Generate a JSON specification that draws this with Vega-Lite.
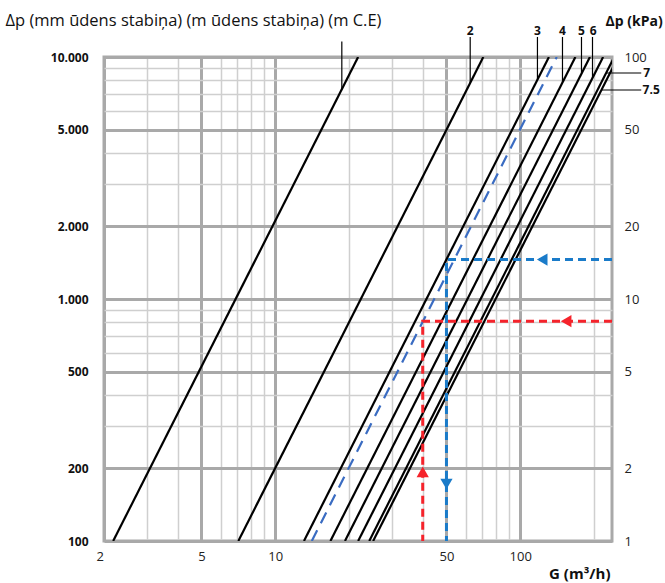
{
  "$schema": "https://vega.github.io/schema/vega-lite/v6.json",
  "width": 508,
  "height": 484,
  "autosize": "none",
  "padding": {"left": 104, "top": 57, "right": 53, "bottom": 42},
  "background": "white",
  "config": {
    "view": {"stroke": "#a9a9a9", "strokeWidth": 3},
    "font": "Open Sans"
  },
  "resolve": {"scale": {"y": "independent"}, "axis": {"y": "independent"}},
  "encoding": {
    "x": {
      "field": "G", "type": "quantitative",
      "scale": {"type": "log", "domain": [2, 237], "nice": false},
      "axis": {
        "values": [2, 3, 4, 5, 6, 7, 8, 9, 10, 20, 30, 40, 50, 60, 70, 80, 90, 100, 200],
        "grid": true,
        "gridColor": {"condition": {"test": "indexof([2,5,10,50,100], datum.value) >= 0", "value": "#a9a9a9"}, "value": "#cfcfcf"},
        "gridWidth": {"condition": {"test": "indexof([2,5,10,50,100], datum.value) >= 0", "value": 3}, "value": 1.5},
        "labelExpr": "indexof([2,5,10,50,100], datum.value) >= 0 ? toString(datum.value) : ''",
        "labelOffset": {"condition": {"test": "datum.value == 2", "value": -8}, "value": 0},
        "labelOverlap": false,
        "labelPadding": 9,
        "labelFontSize": 13,
        "labelColor": "#222",
        "ticks": false,
        "domain": false,
        "title": "G (m³/h)",
        "titleFontSize": 15,
        "titleFontWeight": "bold",
        "titleColor": "#111",
        "titleAlign": "right",
        "titleBaseline": "middle",
        "titleX": 506,
        "titleY": 32
      }
    }
  },
  "layer": [
    {
      "data": {"values": [{"G": 2, "dp": 100}]},
      "mark": {"type": "point", "opacity": 0},
      "encoding": {
        "y": {
          "field": "dp", "type": "quantitative",
          "scale": {"type": "log", "domain": [100, 10000], "nice": false},
          "axis": {
            "orient": "left",
            "values": [100, 200, 300, 400, 500, 600, 700, 800, 900, 1000, 2000, 3000, 4000, 5000, 6000, 7000, 8000, 9000, 10000],
            "grid": true,
            "gridColor": {"condition": {"test": "indexof([100,200,500,1000,2000,5000,10000], datum.value) >= 0", "value": "#a9a9a9"}, "value": "#cfcfcf"},
            "gridWidth": {"condition": {"test": "indexof([100,200,500,1000,2000,5000,10000], datum.value) >= 0", "value": 3}, "value": 1.5},
            "labelExpr": "indexof([100,200,500,1000,2000,5000,10000], datum.value) >= 0 ? replace(format(datum.value, ','), ',', '.') : ''",
            "labelOverlap": false,
            "labelPadding": 16,
            "labelFontSize": 12,
            "labelFontWeight": "bold",
            "labelColor": "#111",
            "ticks": false,
            "domain": false,
            "title": "Δp (mm ūdens stabiņa) (m ūdens stabiņa) (m C.E)",
            "titleAngle": 0,
            "titleAlign": "left",
            "titleBaseline": "middle",
            "titleX": -99,
            "titleY": -37,
            "titleFontSize": 16.5,
            "titleFontWeight": "normal",
            "titleColor": "#111"
          }
        }
      }
    },
    {
      "data": {"values": [
        {"id": "1", "G": 2.18, "dp": 100}, {"id": "1", "G": 21.8, "dp": 10000},
        {"id": "2", "G": 7.07, "dp": 100}, {"id": "2", "G": 70.7, "dp": 10000},
        {"id": "3", "G": 13.1, "dp": 100}, {"id": "3", "G": 131, "dp": 10000},
        {"id": "4", "G": 16.8, "dp": 100}, {"id": "4", "G": 168, "dp": 10000},
        {"id": "5", "G": 19.26, "dp": 100}, {"id": "5", "G": 192.6, "dp": 10000},
        {"id": "6", "G": 21.8, "dp": 100}, {"id": "6", "G": 218, "dp": 10000},
        {"id": "7", "G": 24.2, "dp": 100}, {"id": "7", "G": 242, "dp": 10000},
        {"id": "7.5", "G": 25.1, "dp": 100}, {"id": "7.5", "G": 251, "dp": 10000}
      ]},
      "mark": {"type": "line", "color": "#000", "strokeWidth": 2.2, "clip": true},
      "encoding": {
        "y": {"field": "dp", "type": "quantitative", "scale": {"type": "log", "domain": [100, 10000], "nice": false}, "axis": null},
        "detail": {"field": "id"}
      }
    },
    {
      "data": {"values": [
        {"id": "b", "G": 14.1, "dp": 100}, {"id": "b", "G": 141, "dp": 10000}
      ]},
      "mark": {"type": "line", "color": "#3a6cc2", "strokeWidth": 2.2, "strokeDash": [12, 8], "clip": true},
      "encoding": {
        "y": {"field": "dp", "type": "quantitative", "scale": {"type": "log", "domain": [100, 10000], "nice": false}, "axis": null}
      }
    },
    {
      "data": {"values": [
        {"s": "b", "i": 1, "G": 237, "dp": 1455}, {"s": "b", "i": 2, "G": 50, "dp": 1455}, {"s": "b", "i": 3, "G": 50, "dp": 100},
        {"s": "r", "i": 1, "G": 237, "dp": 810}, {"s": "r", "i": 2, "G": 40, "dp": 810}, {"s": "r", "i": 3, "G": 40, "dp": 100}
      ]},
      "mark": {"type": "line", "strokeWidth": 3, "strokeDash": [8, 5]},
      "encoding": {
        "y": {"field": "dp", "type": "quantitative", "scale": {"type": "log", "domain": [100, 10000], "nice": false}, "axis": null},
        "color": {"field": "s", "type": "nominal", "scale": {"domain": ["b", "r"], "range": ["#1a7bc9", "#f5232b"]}, "legend": null},
        "order": {"field": "i", "type": "quantitative"}
      }
    },
    {
      "data": {"values": [
        {"s": "b", "shape": "triangle-left", "G": 123, "dp": 1455},
        {"s": "b", "shape": "triangle-down", "G": 50, "dp": 172},
        {"s": "r", "shape": "triangle-left", "G": 154, "dp": 810},
        {"s": "r", "shape": "triangle-up", "G": 40, "dp": 193}
      ]},
      "mark": {"type": "point", "filled": true, "size": 150, "opacity": 1},
      "encoding": {
        "y": {"field": "dp", "type": "quantitative", "scale": {"type": "log", "domain": [100, 10000], "nice": false}, "axis": null},
        "color": {"field": "s", "type": "nominal", "scale": {"domain": ["b", "r"], "range": ["#1a7bc9", "#f5232b"]}, "legend": null},
        "shape": {"field": "shape", "type": "nominal", "scale": null}
      }
    },
    {
      "data": {"values": [
        {"G": 18.7, "dp": 11600, "dp2": 7358},
        {"G": 62.5, "dp": 12100, "dp2": 7815},
        {"G": 117.6, "dp": 12100, "dp2": 8059},
        {"G": 148.8, "dp": 12100, "dp2": 7845},
        {"G": 177.9, "dp": 12100, "dp2": 8532},
        {"G": 197.3, "dp": 12100, "dp2": 8191}
      ]},
      "mark": {"type": "rule", "color": "#000", "strokeWidth": 1.2},
      "encoding": {
        "y": {"field": "dp", "type": "quantitative", "scale": {"type": "log", "domain": [100, 10000], "nice": false}, "axis": null},
        "y2": {"field": "dp2"}
      }
    },
    {
      "data": {"values": [
        {"G": 224, "G2": 312, "dp": 8587},
        {"G": 214.5, "G2": 312, "dp": 7306}
      ]},
      "mark": {"type": "rule", "color": "#000", "strokeWidth": 1.2},
      "encoding": {
        "x2": {"field": "G2"},
        "y": {"field": "dp", "type": "quantitative", "scale": {"type": "log", "domain": [100, 10000], "nice": false}, "axis": null}
      }
    },
    {
      "data": {"values": [
        {"t": "2", "G": 62.5, "dp": 12800},
        {"t": "3", "G": 117.6, "dp": 12800},
        {"t": "4", "G": 148.8, "dp": 12800},
        {"t": "5", "G": 177.9, "dp": 12800},
        {"t": "6", "G": 198.5, "dp": 12800}
      ]},
      "mark": {"type": "text", "fontSize": 12, "fontWeight": "bold", "color": "#111", "align": "center", "baseline": "middle"},
      "encoding": {
        "y": {"field": "dp", "type": "quantitative", "scale": {"type": "log", "domain": [100, 10000], "nice": false}, "axis": null},
        "text": {"field": "t"}
      }
    },
    {
      "data": {"values": [
        {"t": "7", "G": 318, "dp": 8587},
        {"t": "7.5", "G": 316, "dp": 7306}
      ]},
      "mark": {"type": "text", "fontSize": 12, "fontWeight": "bold", "color": "#111", "align": "left", "baseline": "middle"},
      "encoding": {
        "y": {"field": "dp", "type": "quantitative", "scale": {"type": "log", "domain": [100, 10000], "nice": false}, "axis": null},
        "text": {"field": "t"}
      }
    },
    {
      "data": {"values": [{"G": 2, "kpa": 1}, {"G": 2, "kpa": 100}]},
      "mark": {"type": "point", "opacity": 0},
      "encoding": {
        "y": {
          "field": "kpa", "type": "quantitative",
          "scale": {"type": "log", "domain": [1, 100], "nice": false},
          "axis": {
            "orient": "right",
            "values": [1, 2, 5, 10, 20, 50, 100],
            "grid": false,
            "ticks": false,
            "domain": false,
            "labelExpr": "toString(datum.value)",
            "labelOverlap": false,
            "labelPadding": 12,
            "labelFontSize": 13,
            "labelColor": "#222",
            "title": "Δp (kPa)",
            "titleAngle": 0,
            "titleAlign": "left",
            "titleBaseline": "middle",
            "titleX": -7,
            "titleY": -36,
            "titleFontSize": 14,
            "titleFontWeight": "bold",
            "titleColor": "#111"
          }
        }
      }
    }
  ]
}
